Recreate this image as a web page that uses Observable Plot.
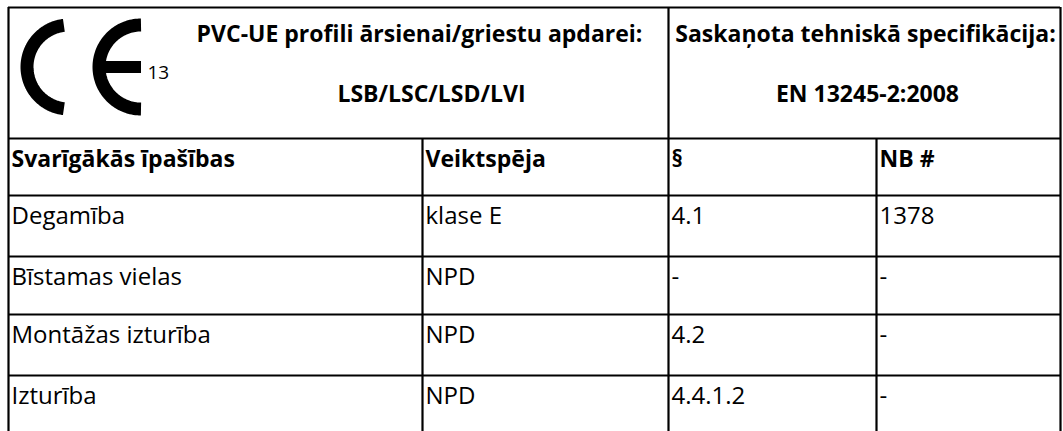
<!DOCTYPE html>
<html>
<head>
<meta charset="utf-8">
<script src="https://cdn.jsdelivr.net/npm/d3@7"></script>
<script src="https://cdn.jsdelivr.net/npm/@observablehq/plot@0.6"></script>
<style>
  html, body { margin: 0; padding: 0; background: #fff; }
  svg { display: block; }
</style>
</head>
<body>
<div id="chart"></div>
<script>
// ---- data ----
const ceNumber = "13";
const productTitle = ["PVC-UE profili ārsienai/griestu apdarei:", "LSB/LSC/LSD/LVI"];
const specTitle = ["Saskaņota tehniskā specifikācija:", "EN 13245-2:2008"];
const colHeaders = ["Svarīgākās īpašības", "Veiktspēja", "§", "NB #"];
const properties = ["Degamība", "Bīstamas vielas", "Montāžas izturība", "Izturība"];
const performance = ["klase E", "NPD", "NPD", "NPD"];
const sections = ["4.1", "-", "4.2", "4.4.1.2"];
const nbNumbers = ["1378", "-", "-", "-"];

// ---- layout ----
const W = 1063, H = 431;
const FONT = "'Open Sans', sans-serif";
const colEdges = [8, 422, 668, 876, 1060];
const tableTop = 7, headerBottom = 138;
const rowEdges = [138, 195, 256, 314, 375];   // top of each grid row
const textPad = 3, baseOffset = 28;

const headCells = colHeaders.map((h, c) => ({col: c, row: 0, text: h}));
const bodyCells = [];
[properties, performance, sections, nbNumbers].forEach((arr, c) =>
  arr.forEach((t, r) => bodyCells.push({col: c, row: r + 1, text: t})));

// grid rules
const hLines = [
  {x1: colEdges[0], x2: colEdges[4], y: tableTop},
  ...rowEdges.map(y => ({x1: colEdges[0], x2: colEdges[4], y}))
];
const vLines = [
  {x: colEdges[0], y1: tableTop, y2: H},
  {x: colEdges[4], y1: tableTop, y2: H},
  {x: colEdges[2], y1: tableTop, y2: H},
  {x: colEdges[1], y1: headerBottom, y2: H},
  {x: colEdges[3], y1: headerBottom, y2: H}
];

// CE mark geometry
function arc(cx, cy, r, a0, a1, n = 80) {
  return d3.range(n + 1).map(i => {
    const a = (a0 + (a1 - a0) * i / n) * Math.PI / 180;
    return {x: cx + r * Math.cos(a), y: cy + r * Math.sin(a)};
  });
}
const cArc = arc(68.5, 66.5, 42, 263, 97);
const eArc = arc(140.5, 66.5, 42, 270, 90);
const eBar = [{x: 100, y: 66.5}, {x: 140.5, y: 66.5}];

const headerTexts = [
  {x: 419, y: 41, text: productTitle[0]},
  {x: 431, y: 101, text: productTitle[1]},
  {x: 865, y: 41, text: specTitle[0]},
  {x: 867, y: 101, text: specTitle[1]}
];

const cellX = d => colEdges[d.col] + textPad;
const cellY = d => rowEdges[d.row] + baseOffset;

const chart = Plot.plot({
  width: W, height: H,
  margin: 0,
  x: {domain: [0, W], range: [0, W], axis: null},
  y: {domain: [0, H], range: [0, H], axis: null},
  style: {fontFamily: FONT, background: "#fff", color: "#000"},
  marks: [
    Plot.line(cArc, {x: "x", y: "y", stroke: "#000", strokeWidth: 13, strokeLinecap: "butt", strokeLinejoin: "miter"}),
    Plot.line(eArc, {x: "x", y: "y", stroke: "#000", strokeWidth: 13, strokeLinecap: "butt", strokeLinejoin: "miter"}),
    Plot.line(eBar, {x: "x", y: "y", stroke: "#000", strokeWidth: 12, strokeLinecap: "butt"}),
    Plot.text([ceNumber], {x: () => 147, y: () => 78, text: d => d, textAnchor: "start", lineAnchor: "bottom", fontSize: 19, fill: "#000"}),
    Plot.text(headerTexts, {x: "x", y: "y", text: "text", textAnchor: "middle", lineAnchor: "bottom", fontSize: 23, fontWeight: "bold", fill: "#000"}),
    Plot.ruleY(hLines, {x1: "x1", x2: "x2", y: "y", stroke: "#000", strokeWidth: 2.2}),
    Plot.ruleX(vLines, {x: "x", y1: "y1", y2: "y2", stroke: "#000", strokeWidth: 2.2}),
    Plot.text(headCells, {x: cellX, y: cellY, text: "text", textAnchor: "start", lineAnchor: "bottom", fontSize: 23, fontWeight: "bold", fill: "#000"}),
    Plot.text(bodyCells, {x: cellX, y: cellY, text: "text", textAnchor: "start", lineAnchor: "bottom", fontSize: 24, fill: "#000"})
  ]
});
document.getElementById("chart").appendChild(chart);
</script>
</body>
</html>
